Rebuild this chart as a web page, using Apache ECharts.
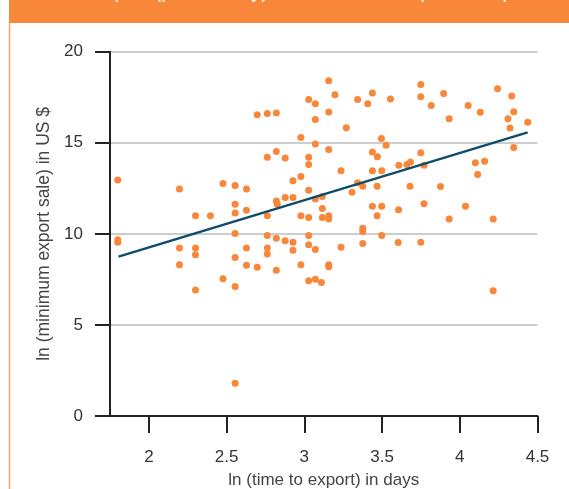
<!DOCTYPE html>
<html><head><meta charset="utf-8">
<script src="https://cdn.jsdelivr.net/npm/echarts@6/dist/echarts.min.js"></script>
<style>html,body{margin:0;padding:0;background:#fff}#c{width:569px;height:489px}</style>
</head><body><div id="c"></div>
<script>
const titleText = 'Time to export (per country) and minimum export sale per firm';
const xTitle = 'ln (time to export) in days';
const yTitle = 'ln (minimum export sale) in US $';
const xTicks = [2, 2.5, 3, 3.5, 4, 4.5];
const yTicks = [0, 5, 10, 15, 20];
const timeToExport = [
1.80,2.197,2.477,2.555,2.628,2.30,2.396,2.555,2.555,2.628,2.555,2.697,2.762,2.82,2.762,2.82,2.877,2.927,2.978,2.877,
2.927,2.82,2.826,2.762,2.978,3.028,3.028,3.028,3.028,2.978,3.028,3.071,3.071,3.071,3.157,3.157,3.157,3.197,3.071,3.116,
3.116,3.116,3.157,3.157,1.80,1.80,2.197,2.30,2.30,2.197,2.30,2.477,2.555,2.555,2.628,2.628,2.697,2.762,2.762,2.762,
2.82,2.877,2.927,2.927,2.82,2.978,3.028,3.028,3.071,3.028,3.071,3.11,3.157,3.157,2.555,3.27,3.343,3.408,3.438,3.554,
3.749,3.749,3.816,3.896,3.932,4.054,4.132,4.243,4.334,4.347,4.31,4.323,4.437,4.347,3.496,3.526,3.438,3.47,3.236,3.438,
3.498,3.608,3.66,3.683,3.749,3.77,4.10,4.16,4.115,3.343,3.307,3.376,3.468,3.68,3.876,3.438,3.498,3.468,3.606,3.77,
4.037,3.932,4.215,3.376,3.376,3.498,3.236,3.376,3.604,3.749,4.215
];
const minExportSale = [
12.95,12.46,12.76,12.65,12.46,11.0,11.0,11.63,11.14,11.30,10.02,16.54,16.61,16.63,14.21,14.52,14.16,12.91,13.15,11.99,
11.99,11.81,11.63,11.0,11.0,10.9,12.40,13.81,14.21,15.29,17.38,17.14,16.28,14.93,18.41,16.69,14.63,17.64,11.92,12.05,
11.39,10.9,10.99,10.82,9.67,9.54,9.23,9.23,8.85,8.31,6.92,7.53,7.11,8.70,9.23,8.28,8.17,9.91,9.23,8.90,
9.76,9.62,9.54,9.10,8.0,8.31,9.91,9.40,9.14,7.42,7.51,7.33,8.31,8.19,1.80,15.82,17.38,17.14,17.73,17.40,
18.20,17.53,17.05,17.71,16.32,17.05,16.67,17.97,17.57,16.70,16.32,15.81,16.12,14.74,15.24,14.87,14.49,14.23,13.46,13.46,
13.46,13.77,13.81,13.94,14.45,13.77,13.90,13.99,13.26,12.80,12.29,12.62,12.62,12.62,12.60,11.52,11.52,11.0,11.32,11.65,
11.52,10.82,10.82,10.31,10.13,9.91,9.27,9.47,9.52,9.54,6.87
];
const fitX = [1.805, 4.437];
const fitY = [8.75, 15.57];

const points = timeToExport.map((x, i) => [x, minExportSale[i]]);
const fit = fitX.map((x, i) => [x, fitY[i]]);
const font = 'Liberation Sans';
const chart = echarts.init(document.getElementById('c'), null, {renderer: 'canvas'});
chart.setOption({
  animation: false,
  backgroundColor: '#fff',
  textStyle: {fontFamily: font},
  graphic: [
    {type: 'rect', left: 9, top: 0, shape: {width: 560, height: 23}, style: {fill: '#F9873A'}, z: 10},
    {type: 'line', shape: {x1: 9.5, y1: 23, x2: 9.5, y2: 489}, style: {stroke: '#F9A36A', lineWidth: 1.5}, z: 10},
    {type: 'text', left: 22, top: -18, style: {text: titleText, fill: '#fff', font: '20px "Liberation Sans"'}, z: 11}
  ],
  grid: {left: 110, right: 31.5, top: 51.7, bottom: 73, containLabel: false, outerBoundsMode: 'none'},
  xAxis: {
    type: 'value', min: 1.75, max: 4.5,
    name: xTitle, nameLocation: 'middle', nameGap: 56,
    nameTextStyle: {fontSize: 17, color: '#444', fontFamily: font},
    axisLine: {show: true, onZero: false, lineStyle: {color: '#222', width: 2}},
    axisTick: {show: true, length: 17, customValues: xTicks, lineStyle: {color: '#222', width: 2}},
    axisLabel: {customValues: xTicks, margin: 33, fontSize: 17, color: '#333', fontFamily: font},
    splitLine: {show: false}
  },
  yAxis: {
    type: 'value', min: 0, max: 20, interval: 5,
    name: yTitle, nameLocation: 'middle', nameGap: 56,
    nameTextStyle: {fontSize: 17.5, color: '#444', fontFamily: font},
    axisLine: {show: true, lineStyle: {color: '#222', width: 2}},
    axisTick: {show: true, length: 15, lineStyle: {color: '#222', width: 2}},
    axisLabel: {margin: 27, fontSize: 17, color: '#333', fontFamily: font},
    splitLine: {show: true, lineStyle: {color: '#bdbdbd', width: 1.5}}
  },
  series: [
    {type: 'scatter', data: points, symbolSize: 7, itemStyle: {color: '#F9873A', opacity: 1}, z: 3},
    {type: 'line', data: fit, symbol: 'none', lineStyle: {color: '#0D4C6B', width: 2.5}, z: 4}
  ]
});
</script></body></html>
